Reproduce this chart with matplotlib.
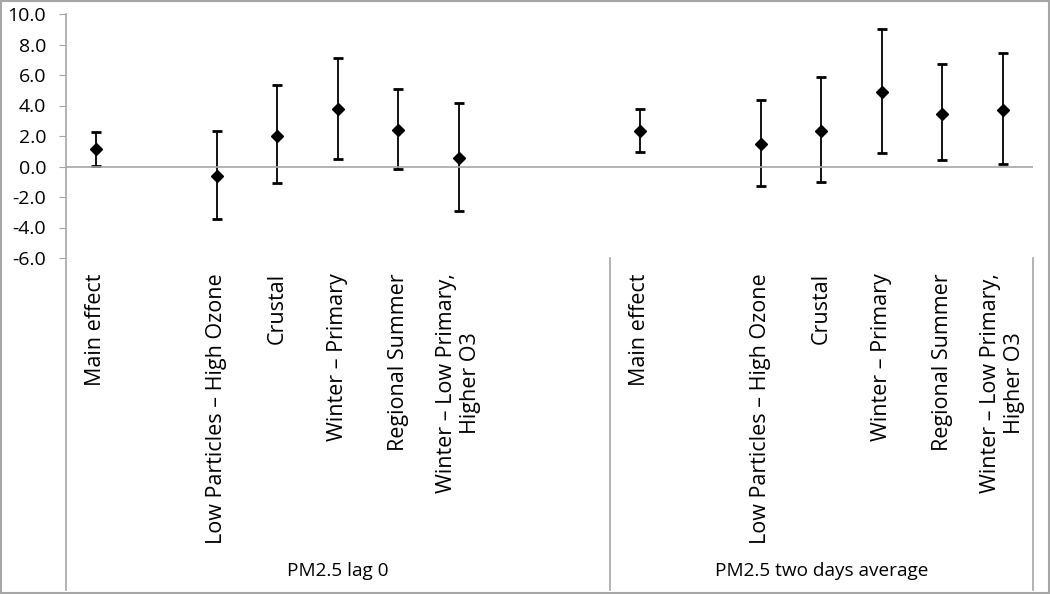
import matplotlib
matplotlib.use("Agg")
import matplotlib.pyplot as plt
import matplotlib.transforms as mtransforms
from matplotlib.lines import Line2D
import numpy as np

plt.rcParams['font.family'] = ['Open Sans', 'DejaVu Sans']

# categorias (slots vazios = '')
categories = ['Main effect', '', 'Low Particles \u2013 High Ozone', 'Crustal',
              'Winter \u2013 Primary', 'Regional Summer',
              'Winter \u2013 Low Primary,\nHigher O3', '', '',
              'Main effect', '', 'Low Particles \u2013 High Ozone', 'Crustal',
              'Winter \u2013 Primary', 'Regional Summer',
              'Winter \u2013 Low Primary,\nHigher O3']
groups = ['PM2.5 lag 0', 'PM2.5 two days average']
group_sizes = [9, 7]

nan = np.nan
estimate = [1.15, nan, -0.62, 2.02, 3.75, 2.39, 0.56, nan, nan,
            2.31, nan, 1.50, 2.35, 4.89, 3.46, 3.73]
lower = [0.05, nan, -3.42, -1.10, 0.49, -0.16, -2.94, nan, nan,
         0.93, nan, -1.28, -1.04, 0.89, 0.41, 0.16]
upper = [2.24, nan, 2.33, 5.34, 7.13, 5.06, 4.18, nan, nan,
         3.77, nan, 4.38, 5.89, 9.04, 6.70, 7.42]

yticks = [-6, -4, -2, 0, 2, 4, 6, 8, 10]

grey = '#a6a6a6'

fig = plt.figure(figsize=(10.5, 5.94), dpi=100)
ax = fig.add_axes([65.5/1050, 1 - 258/594, (1033-65.5)/1050, (258-14)/594])

x = np.arange(len(categories))
est = np.array(estimate)
lo = np.array(lower)
up = np.array(upper)
ok = ~np.isnan(est)
ax.errorbar(x[ok], est[ok], yerr=[est[ok] - lo[ok], up[ok] - est[ok]],
            fmt='D', color='black', markersize=6.5, elinewidth=1.3,
            capsize=3.5, capthick=2, ecolor='black')

ax.set_xlim(-0.5, len(categories) - 0.5)
ax.set_ylim(-6, 10)
ax.set_yticks(yticks)
ax.set_yticklabels(['%.1f' % v for v in yticks], fontsize=14)
ax.tick_params(axis='y', direction='out', length=5, color=grey, pad=9)
ax.axhline(0, color=grey, lw=1.2)

for s in ['top', 'right', 'bottom', 'left']:
    ax.spines[s].set_visible(False)

ax.set_xticks(x)
ax.set_xticklabels(categories, rotation=90, fontsize=15.5, va='top',
                   ha='center', multialignment='center')
ax.tick_params(axis='x', length=0, pad=11)

# linhas verticais (eixo + separadores de grupo)
trans = mtransforms.blended_transform_factory(ax.transData, fig.transFigure)
y_ax_bot = 1 - 258/594
y_fig_bot = 1 - 590/594
ax.add_line(Line2D([-0.5, -0.5], [y_fig_bot, 1 - 14/594], transform=trans,
                   color=grey, lw=1.2, clip_on=False))
start = -0.5
for g, n in zip(groups, group_sizes):
    end = start + n
    ax.add_line(Line2D([end, end], [y_fig_bot, y_ax_bot], transform=trans,
                       color=grey, lw=1.2, clip_on=False))
    ax.text((start + end) / 2, 1 - 571/594, g, transform=trans,
            ha='center', va='center', fontsize=13.7)
    start = end

# borda do grafico
fig.patches.append(plt.Rectangle((0.001, 0.001), 0.998, 0.997,
                                 transform=fig.transFigure, fill=False,
                                 edgecolor=grey, lw=1.5))

fig.savefig('out.png', dpi=100)
